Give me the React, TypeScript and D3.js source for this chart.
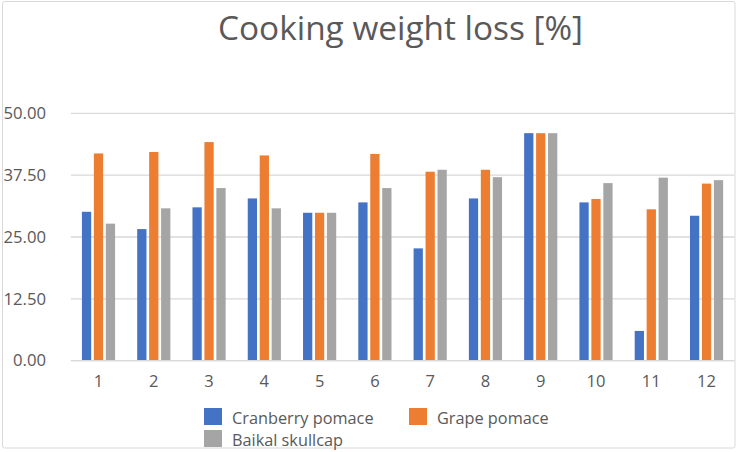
import React from "react";
import * as d3 from "d3";

const categories = ["1", "2", "3", "4", "5", "6", "7", "8", "9", "10", "11", "12"];
const seriesNames = ["Cranberry pomace", "Grape pomace", "Baikal skullcap"];
const cranberry = [30.1, 26.6, 31.0, 32.8, 29.9, 32.0, 22.7, 32.8, 46.0, 32.0, 6.0, 29.3];
const grape = [41.9, 42.2, 44.2, 41.5, 29.9, 41.8, 38.2, 38.6, 46.0, 32.7, 30.6, 35.8];
const baikal = [27.7, 30.8, 34.9, 30.8, 29.9, 34.9, 38.6, 37.1, 46.0, 35.9, 37.0, 36.5];
const yTicks = [0, 12.5, 25, 37.5, 50];
const colors = ["#4472C4", "#ED7D31", "#A5A5A5"];
const title = "Cooking weight loss [%]";

const W = 738;
const H = 452;
const font = "'Open Sans', sans-serif";
const textColor = "#595959";

export default function App() {
  const series = [cranberry, grape, baikal];
  const x = d3
    .scaleBand<string>()
    .domain(categories)
    .range([70.86, 734.2])
    .paddingInner(0.4)
    .paddingOuter(0.2);
  const inner = d3
    .scaleBand<string>()
    .domain(seriesNames)
    .range([0, x.bandwidth()])
    .paddingInner(0.225)
    .paddingOuter(0);
  const y = d3.scaleLinear().domain([0, 50]).range([360.6, 113.4]);

  const legendItems = [
    { name: seriesNames[0], color: colors[0], x: 204, y: 408 },
    { name: seriesNames[1], color: colors[1], x: 409, y: 408 },
    { name: seriesNames[2], color: colors[2], x: 204, y: 430 },
  ];

  return (
    <svg
      width={W}
      height={H}
      style={{ position: "absolute", left: 0, top: 0, background: "#fff" }}
      fontFamily={font}
    >
      <rect x={0} y={0} width={W} height={H} fill="#fff" />
      <rect
        x={2.5}
        y={1.5}
        width={732.5}
        height={446.5}
        fill="none"
        stroke="#d9d9d9"
        strokeWidth={1}
        rx={2}
      />
      <text
        x={400.5}
        y={40}
        textAnchor="middle"
        fontSize={33}
        fill={textColor}
        textLength={365}
        lengthAdjust="spacingAndGlyphs"
      >
        {title}
      </text>
      {yTicks.map((t) => (
        <g key={t}>
          <line
            x1={70.86}
            x2={734.2}
            y1={y(t)}
            y2={y(t)}
            stroke="#d9d9d9"
            strokeWidth={1.3}
          />
          <text
            x={46}
            y={y(t)}
            dy="0.35em"
            textAnchor="end"
            fontSize={16.7}
            fill={textColor}
          >
            {t.toFixed(2)}
          </text>
        </g>
      ))}
      {categories.map((c, i) => (
        <g key={c} transform={`translate(${x(c)},0)`}>
          {series.map((s, j) => (
            <rect
              key={j}
              x={inner(seriesNames[j])}
              y={y(s[i])}
              width={inner.bandwidth()}
              height={y(0) - y(s[i])}
              fill={colors[j]}
            />
          ))}
          <text
            x={x.bandwidth() / 2}
            y={387}
            textAnchor="middle"
            fontSize={16.5}
            fill={textColor}
          >
            {c}
          </text>
        </g>
      ))}
      <line x1={70.86} x2={734.2} y1={y(0)} y2={y(0)} stroke="#d9d9d9" strokeWidth={1.3} />
      {legendItems.map((l) => (
        <g key={l.name}>
          <rect x={l.x} y={l.y} width={18} height={17} fill={l.color} />
          <text x={l.x + 28} y={l.y + 16} fontSize={16.3} fill={textColor}>
            {l.name}
          </text>
        </g>
      ))}
    </svg>
  );
}
